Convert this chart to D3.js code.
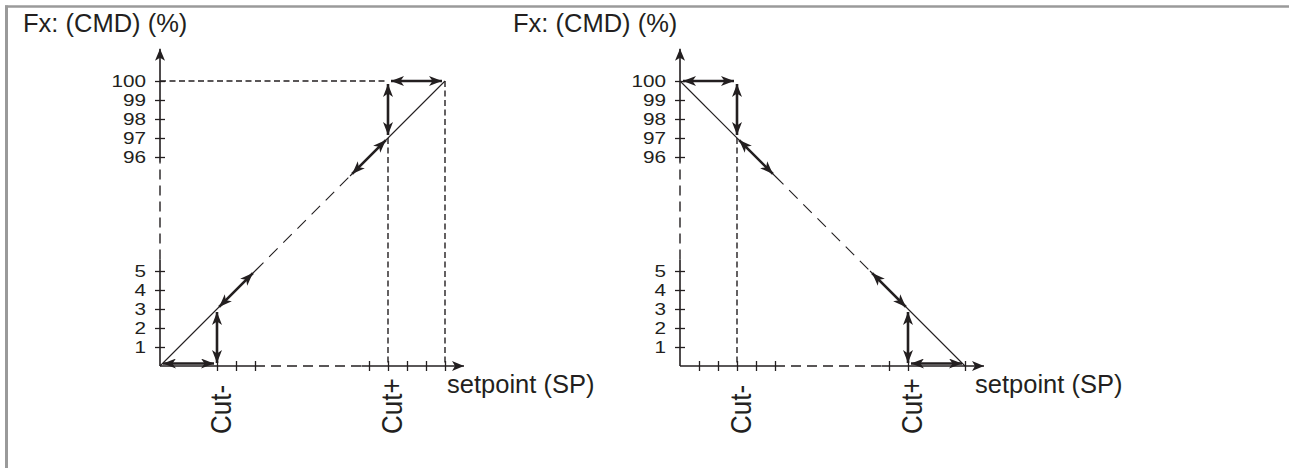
<!DOCTYPE html>
<html>
<head>
<meta charset="utf-8">
<script src="https://cdn.jsdelivr.net/npm/d3@7"></script>
<style>
  html, body { margin: 0; padding: 0; background: #fff; }
  svg { display: block; }
</style>
</head>
<body>
<script>
"use strict"
// two cut-off diagrams (rising and falling characteristic), drawn on a 0..16 grid of units

const W = 1289;
const H = 468;
const unit = 19;
const baseY = 366;
const ink = "#231f20";
const font = "'Liberation Sans', Arial, Helvetica, sans-serif";

// axis ticks and labels
const yTickValues = [1, 2, 3, 4, 5, 11, 12, 13, 14, 15];
const yTickLabels = ["1", "2", "3", "4", "5", "96", "97", "98", "99", "100"];
const xTicksLeft = [3, 4, 5, 11, 12, 13, 14, 15];
const xTicksRight = [1, 2, 3, 4, 5, 11, 12, 15];
const cutValues = [3, 12];
const cutLabels = ["Cut-", "Cut+"];
const yTitle = "Fx: (CMD) (%)";
const xTitle = "setpoint (SP)";

// axis breaks (solid - broken - solid) and ends
const yBreak = [5.6, 10.7];
const xBreak = [5, 10.6];
const yEnd = 16.7;
const xEnd = 16;

// left diagram: rising characteristic
const leftSolid = [[[0, 0], [5, 5]], [[10, 10], [15, 15]]];
const leftBroken = [[[5, 5], [10, 10]]];
const leftGuides = [[[0, 15], [12, 15]], [[12, 12], [12, 0]], [[15, 15], [15, 0]]];
const leftArrows = [[[0, 0], [3, 0]], [[3, 0], [3, 3]], [[3, 3], [5, 5]],
                    [[10, 10], [12, 12]], [[12, 12], [12, 15]], [[12, 15], [15, 15]]];

// right diagram: falling characteristic
const rightSolid = [[[0, 15], [5, 10]], [[10, 5], [15, 0]]];
const rightBroken = [[[5, 10], [10, 5]]];
const rightGuides = [[[3, 12], [3, 0]]];
const rightArrows = [[[0, 15], [3, 15]], [[3, 15], [3, 12]], [[3, 12], [5, 10]],
                     [[10, 5], [12, 3]], [[12, 3], [12, 0]], [[12, 0], [15, 0]]];

const panels = [
	{ ox: 160, titleX: 23, labelX: 447, xTicks: xTicksLeft, solid: leftSolid, broken: leftBroken, guides: leftGuides, arrows: leftArrows },
	{ ox: 680, titleX: 513, labelX: 975, xTicks: xTicksRight, solid: rightSolid, broken: rightBroken, guides: rightGuides, arrows: rightArrows }
];

const svg = d3.select("body")
	.append("svg")
	.attr("width", W)
	.attr("height", H);

const defs = svg.append("defs");

defs.append("marker")
	.attr("id", "head")
	.attr("viewBox", "0 0 13 10")
	.attr("refX", 13)
	.attr("refY", 5)
	.attr("markerUnits", "userSpaceOnUse")
	.attr("markerWidth", 13)
	.attr("markerHeight", 10)
	.attr("orient", "auto-start-reverse")
	.append("path")
	.attr("d", "M0,0 L13,5 L0,10 L3.5,5 Z")
	.attr("fill", ink);

defs.append("marker")
	.attr("id", "axishead")
	.attr("viewBox", "0 0 12 10")
	.attr("refX", 12)
	.attr("refY", 5)
	.attr("markerUnits", "userSpaceOnUse")
	.attr("markerWidth", 12)
	.attr("markerHeight", 10)
	.attr("orient", "auto")
	.append("path")
	.attr("d", "M0,0 L12,5 L0,10 L3,5 Z")
	.attr("fill", ink);

// frame
svg.append("line")
	.attr("x1", 5).attr("x2", W).attr("y1", 6.5).attr("y2", 6.5)
	.attr("stroke", "#9a9a9a").attr("stroke-width", 2.5);
svg.append("line")
	.attr("x1", 6.5).attr("x2", 6.5).attr("y1", 5.5).attr("y2", H)
	.attr("stroke", "#9a9a9a").attr("stroke-width", 3);

panels.forEach(drawPanel);

function drawPanel(p) {
	const x = d3.scaleLinear().domain([0, xEnd]).range([p.ox, p.ox + xEnd * unit]);
	const y = d3.scaleLinear().domain([0, yEnd]).range([baseY, baseY - yEnd * unit]);
	const g = svg.append("g");
	const seg = (a, b) => g.append("line")
		.attr("x1", x(a[0])).attr("y1", y(a[1]))
		.attr("x2", x(b[0])).attr("y2", y(b[1]))
		.attr("stroke", ink)
		.attr("fill", "none");

	// guide lines
	p.guides.forEach(s => seg(s[0], s[1]).attr("stroke-width", 1.4).attr("stroke-dasharray", "6,3.5"));

	// axes lines: solid, broken, solid with arrow
	seg([0, 0], [0, yBreak[0]]).attr("stroke-width", 1.6);
	seg([0, yBreak[0]], [0, yBreak[1]]).attr("stroke-width", 1.4).attr("stroke-dasharray", "10,6");
	seg([0, yBreak[1]], [0, yEnd]).attr("stroke-width", 1.6).attr("marker-end", "url(#axishead)");
	seg([0, 0], [xBreak[0], 0]).attr("stroke-width", 1.6);
	seg([xBreak[0], 0], [xBreak[1], 0]).attr("stroke-width", 1.4).attr("stroke-dasharray", "10,6");
	seg([xBreak[1], 0], [xEnd, 0]).attr("stroke-width", 1.6).attr("marker-end", "url(#axishead)");

	// ticks through d3 axes
	const yAxis = d3.axisLeft(y)
		.tickValues(yTickValues)
		.tickFormat((d, i) => yTickLabels[i])
		.tickSize(5)
		.tickPadding(9);
	const ya = g.append("g")
		.attr("transform", "translate(" + p.ox + ",0)")
		.call(yAxis);
	ya.select(".domain").remove();
	ya.selectAll(".tick line").attr("x1", 5).attr("stroke", ink).attr("stroke-width", 1.3);
	ya.selectAll(".tick text")
		.attr("x", null)
		.attr("transform", "translate(-14,0) scale(1.22,1)")
		.attr("fill", ink)
		.attr("font-size", 17)
		.attr("font-family", font);

	const xAxis = d3.axisBottom(x)
		.tickValues(p.xTicks)
		.tickFormat(d => cutValues.includes(d) ? cutLabels[cutValues.indexOf(d)] : "")
		.tickSize(5);
	const xa = g.append("g")
		.attr("transform", "translate(0," + baseY + ")")
		.call(xAxis);
	xa.select(".domain").remove();
	xa.selectAll(".tick line").attr("y1", -5).attr("stroke", ink).attr("stroke-width", 1.3);
	xa.selectAll(".tick text")
		.attr("y", null)
		.attr("dy", null)
		.attr("text-anchor", "start")
		.attr("transform", "translate(13,68) scale(1.12,1) rotate(-90)")
		.attr("fill", ink)
		.attr("font-size", 26)
		.attr("font-family", font);

	// characteristic line
	p.solid.forEach(s => seg(s[0], s[1]).attr("stroke-width", 1.1));
	p.broken.forEach(s => seg(s[0], s[1]).attr("stroke-width", 1.1).attr("stroke-dasharray", "12,8"));

	// double arrows, pulled a bit in so the heads end sharp
	p.arrows.forEach(s => {
		let x1 = x(s[0][0]), y1 = y(s[0][1]), x2 = x(s[1][0]), y2 = y(s[1][1]);
		if (s[0][1] === 0 && s[1][1] === 0) { y1 -= 2.5; y2 -= 2.5; }
		const len = Math.hypot(x2 - x1, y2 - y1);
		const ux = (x2 - x1) / len, uy = (y2 - y1) / len;
		g.append("line")
			.attr("x1", x1 + ux * 3).attr("y1", y1 + uy * 3)
			.attr("x2", x2 - ux * 3).attr("y2", y2 - uy * 3)
			.attr("stroke", ink)
			.attr("stroke-width", 2.6)
			.attr("marker-start", "url(#head)")
			.attr("marker-end", "url(#head)");
	});

	// titles
	svg.append("text")
		.attr("x", p.titleX)
		.attr("y", 32)
		.attr("fill", ink)
		.attr("font-size", 25.5)
		.attr("font-family", font)
		.text(yTitle);
	svg.append("text")
		.attr("x", p.labelX)
		.attr("y", 393)
		.attr("fill", ink)
		.attr("font-size", 25.5)
		.attr("font-family", font)
		.text(xTitle);
}
</script>
</body>
</html>
